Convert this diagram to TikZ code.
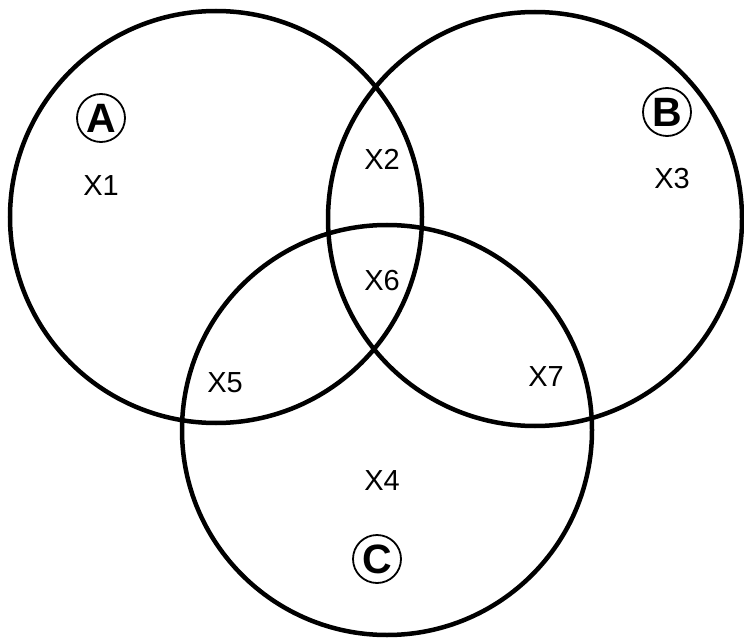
\documentclass[tikz,border=0pt]{standalone}
\usepackage{fontspec}
\setmainfont{Liberation Sans}
\usetikzlibrary{calc}

\begin{document}
\begin{tikzpicture}[x=1pt,y=-1pt,
    setline/.style={line width=4.5pt},
    region/.style={inner sep=0pt,font=\fontsize{29}{31}\selectfont},
    settag/.style={draw,circle,line width=1.8pt,inner sep=0pt,minimum size=48pt,
      font=\fontsize{41}{43}\selectfont\bfseries}]
    \useasboundingbox (0,0) rectangle (744,639);

    % centres of the three sets
    \coordinate (Acent) at (216,217);
    \coordinate (Bcent) at (535,219);
    \coordinate (Ccent) at (387,430);
    \draw[setline] (Acent) circle (206);
    \draw[setline] (Bcent) circle (207);
    \draw[setline] (Ccent) circle (205);

    % set names
    \node[settag] (tagA) at (101,118) {A};
    \node[settag] (tagB) at (667,112) {B};
    \node[settag] (tagC) at (377,559) {C};

    % one label per region
    \node[region] (x1) at (101,186) {X1};
    \node[region] (x2) at (382,159) {X2};
    \node[region] (x3) at (672,179) {X3};
    \node[region] (x4) at (382,481) {X4};
    \node[region] (x5) at (225,383) {X5};
    \node[region] (x6) at (382,281) {X6};
    \node[region] (x7) at (546,377) {X7};
\end{tikzpicture}
\end{document}
